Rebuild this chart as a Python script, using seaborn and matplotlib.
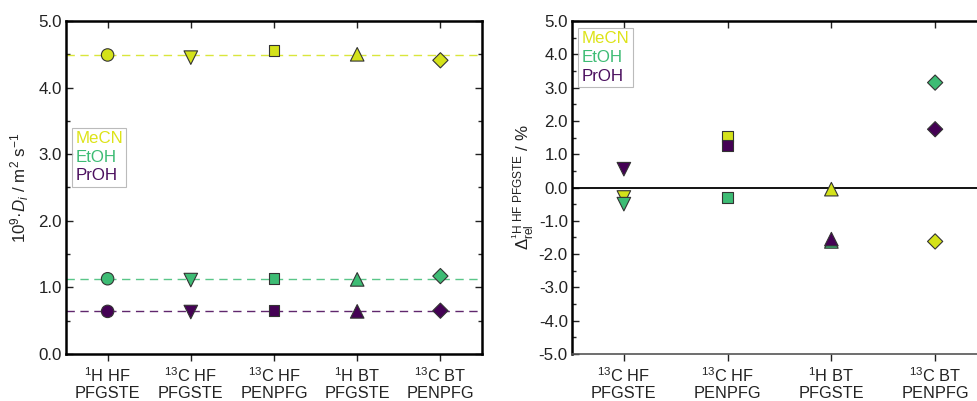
import numpy as np
import pandas as pd
import matplotlib
matplotlib.use("Agg")
import matplotlib.pyplot as plt
from matplotlib.ticker import MultipleLocator, AutoMinorLocator, FormatStrFormatter
from matplotlib.lines import Line2D
import seaborn as sns

sns.set_theme(style="white")
plt.rcParams["font.family"] = ["Liberation Sans", "DejaVu Sans"]
plt.rcParams["mathtext.fontset"] = "custom"
plt.rcParams["mathtext.rm"] = "Liberation Sans"
plt.rcParams["mathtext.it"] = "Liberation Sans:italic"
plt.rcParams["mathtext.bf"] = "Liberation Sans:bold"

# ---- data ----
solvents = ["MeCN", "EtOH", "PrOH"]
methods = ["1H HF PFGSTE", "13C HF PFGSTE", "13C HF PENPFG", "1H BT PFGSTE", "13C BT PENPFG"]
method_labels = ["$^{1}$H HF\nPFGSTE", "$^{13}$C HF\nPFGSTE", "$^{13}$C HF\nPENPFG",
                 "$^{1}$H BT\nPFGSTE", "$^{13}$C BT\nPENPFG"]

# diffusion coefficients, 1e-9 m^2/s
D_MeCN = [4.49, 4.45, 4.56, 4.50, 4.41]
D_EtOH = [1.13, 1.11, 1.13, 1.12, 1.17]
D_PrOH = [0.64, 0.63, 0.65, 0.64, 0.65]

# relative deviation from 1H HF PFGSTE, %
rel_methods = methods[1:]
rel_MeCN = [-0.30, 1.52, -0.05, -1.62]
rel_EtOH = [-0.50, -0.30, -1.62, 3.15]
rel_PrOH = [0.55, 1.25, -1.55, 1.75]

colors = {"MeCN": "#d4e21a", "EtOH": "#3dbc74", "PrOH": "#440154"}
text_colors = {"MeCN": "#dde318", "EtOH": "#3dbc74", "PrOH": "#4b0f5e"}
markers = {"1H HF PFGSTE": "o", "13C HF PFGSTE": "v", "13C HF PENPFG": "s",
           "1H BT PFGSTE": "^", "13C BT PENPFG": "D"}
marker_sizes = {"o": 80, "v": 95, "s": 62, "^": 95, "D": 60}

D_vals = {"MeCN": D_MeCN, "EtOH": D_EtOH, "PrOH": D_PrOH}
rel_vals = {"MeCN": rel_MeCN, "EtOH": rel_EtOH, "PrOH": rel_PrOH}

df_D = pd.DataFrame([(s, m, i, v) for s in solvents
                     for i, (m, v) in enumerate(zip(methods, D_vals[s]))],
                    columns=["solvent", "method", "pos", "value"])
df_rel = pd.DataFrame([(s, m, i, v) for s in solvents
                       for i, (m, v) in enumerate(zip(rel_methods, rel_vals[s]))],
                      columns=["solvent", "method", "pos", "value"])

fig = plt.figure(figsize=(9.77, 4.01), dpi=100)
W, H = 977, 401
axL = fig.add_axes([66 / W, 1 - 354 / H, 416 / W, 333 / H])
axR = fig.add_axes([572 / W, 1 - 354 / H, 415 / W, 333 / H])

tick_color = "#222222"


def draw_points(ax, df, order):
    for m in order:
        sub = df[df.method == m]
        mk = markers[m]
        sns.scatterplot(data=sub, x="pos", y="value", hue="solvent",
                        palette=colors, hue_order=solvents, marker=mk,
                        s=marker_sizes[mk], edgecolor="#333333", linewidth=0.8,
                        legend=False, ax=ax, zorder=3)


def style_axes(ax, n, labels, ylim, bottom_color="black", bottom_lw=1.8):
    ax.set_xlim(-0.5, n - 0.5)
    ax.set_ylim(*ylim)
    ax.set_xticks(range(n))
    ax.set_xticklabels(labels, fontsize=11.8, color=tick_color, linespacing=1.1)
    ax.set_xlabel("")
    ax.yaxis.set_major_locator(MultipleLocator(1.0))
    ax.yaxis.set_minor_locator(AutoMinorLocator(2))
    ax.yaxis.set_major_formatter(FormatStrFormatter("%.1f"))
    ax.tick_params(axis="y", which="major", direction="in", length=5, width=1.0,
                   left=True, right=True, labelsize=12.2, colors=tick_color, pad=3)
    ax.tick_params(axis="y", which="minor", direction="in", length=3, width=1.0,
                   left=True, right=True)
    ax.tick_params(axis="x", which="major", direction="out", length=5, width=1.0,
                   bottom=True, top=False, colors=tick_color, pad=4)
    top = ax.secondary_xaxis("top")
    top.set_xticks(range(n))
    top.tick_params(direction="in", length=5, width=1.0, labeltop=False, colors=tick_color)
    top.spines["top"].set_visible(False)
    for side in ["left", "top", "right"]:
        ax.spines[side].set_color("black")
        ax.spines[side].set_linewidth(1.8)
    ax.spines["bottom"].set_color(bottom_color)
    ax.spines["bottom"].set_linewidth(bottom_lw)


def solvent_legend(ax, anchor):
    handles = [Line2D([], [], linestyle="none", marker=None) for _ in solvents]
    leg = ax.legend(handles, solvents, loc="upper left", bbox_to_anchor=anchor,
                    handlelength=0, handletextpad=0, fontsize=12.2,
                    labelcolor=[text_colors[s] for s in solvents],
                    frameon=True, fancybox=False, borderpad=0.2,
                    labelspacing=0.22, borderaxespad=0)
    leg.get_frame().set_edgecolor("#aaaaaa")
    leg.get_frame().set_linewidth(0.8)
    leg.set_zorder(5)


# ---- left: diffusion coefficients ----
for s in solvents:
    axL.axhline(D_vals[s][0], color=colors[s], lw=1.0, ls=(0, (6, 4)),
                alpha=0.85, zorder=1)
draw_points(axL, df_D, methods)
style_axes(axL, len(methods), method_labels, (0.0, 5.0))
axL.set_ylabel(r"10$^{9}$·$D_i$ / m$^{2}$ s$^{-1}$", fontsize=12.2, color=tick_color,
               labelpad=5)
solvent_legend(axL, (0.014, 0.68))

# ---- right: relative deviations ----
axR.axhline(0.0, color="black", lw=1.3, zorder=1)
draw_points(axR, df_rel, rel_methods)
style_axes(axR, len(rel_methods), method_labels[1:], (-5.0, 5.0),
           bottom_color="#555555", bottom_lw=1.2)
axR.set_ylabel(r"$\mathit{Δ}_{\mathrm{rel}}^{\mathrm{^1H\ HF\ PFGSTE}}$ / %",
               fontsize=12.2, color=tick_color, labelpad=2)
solvent_legend(axR, (0.015, 0.98))

fig.savefig("out.png", dpi=100)
